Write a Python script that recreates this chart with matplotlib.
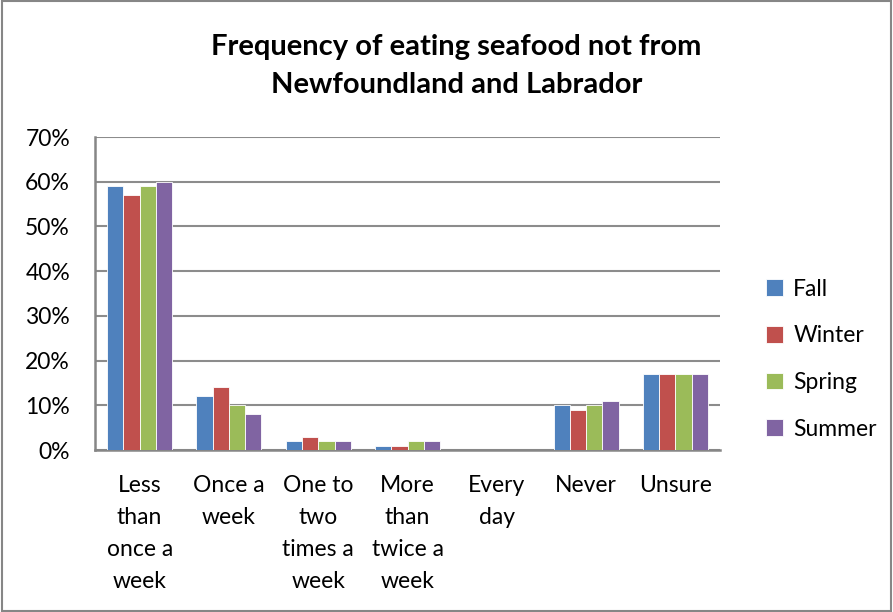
import numpy as np
import matplotlib.pyplot as plt

plt.rcParams['font.family'] = ['Lato', 'DejaVu Sans']

# data
categories = ['Less\nthan\nonce a\nweek', 'Once a\nweek', 'One to\ntwo\ntimes a\nweek',
              'More\nthan\ntwice a\nweek', 'Every\nday', 'Never', 'Unsure']
fall = [59, 12, 2, 1, 0, 10, 17]
winter = [57, 14, 3, 1, 0, 9, 17]
spring = [59, 10, 2, 2, 0, 10, 17]
summer = [60, 8, 2, 2, 0, 11, 17]

series = [('Fall', fall, '#4f81bd'), ('Winter', winter, '#c0504d'),
          ('Spring', spring, '#9bbb59'), ('Summer', summer, '#8064a2')]

fig = plt.figure(figsize=(8.93, 6.12), dpi=100)
ax = fig.add_axes([0.1064, 0.2647, 0.70, 0.5114])

barWidth = 0.182
x = np.arange(len(categories))
for i, (name, vals, col) in enumerate(series):
    ax.bar(x + (i - 1.5) * barWidth, vals, width=barWidth, color=col,
           edgecolor='white', linewidth=0.6, label=name, zorder=3)

ax.set_xlim(-0.5, len(categories) - 0.5)
ax.set_ylim(0, 70)
ax.set_yticks(range(0, 71, 10))
ax.set_yticklabels(['%d%%' % v for v in range(0, 71, 10)], fontsize=16.5)
ax.set_xticks(x)
ax.set_xticklabels(categories, fontsize=16.5, linespacing=1.65)
ax.tick_params(axis='x', length=0, pad=18)
ax.tick_params(axis='y', length=0, pad=18)
ax.grid(axis='y', color='#8c8c8c', linewidth=1.5, zorder=0)
for s in ['top', 'right']:
    ax.spines[s].set_visible(False)
for s in ['left', 'bottom']:
    ax.spines[s].set_color('#868686')
    ax.spines[s].set_linewidth(1.8)

fig.suptitle('Frequency of eating seafood not from\nNewfoundland and Labrador',
             x=0.511, y=0.945, fontsize=21, fontweight='bold', linespacing=1.58)

ax.legend(loc='center left', bbox_to_anchor=(1.04, 0.29), frameon=False,
          fontsize=16.5, handlelength=0.75, handleheight=0.75, labelspacing=1.12,
          handletextpad=0.45)

fig.patches.append(plt.Rectangle((0.002, 0.002), 0.996, 0.996, transform=fig.transFigure,
                                 fill=False, edgecolor='#868686', linewidth=1.5))

fig.savefig('out.png', dpi=100)
